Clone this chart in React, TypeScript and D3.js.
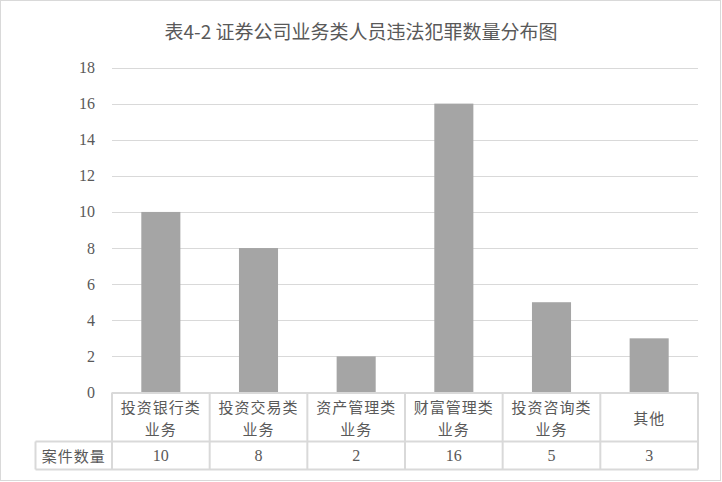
import * as d3 from 'd3';

const categories = ['投资银行类业务', '投资交易类业务', '资产管理类业务', '财富管理类业务', '投资咨询类业务', '其他'];
const labelLines = [['投资银行类', '业务'], ['投资交易类', '业务'], ['资产管理类', '业务'], ['财富管理类', '业务'], ['投资咨询类', '业务'], ['其他']];
const values = [10, 8, 2, 16, 5, 3];
const yTicks = [0, 2, 4, 6, 8, 10, 12, 14, 16, 18];
const title = '表4-2 证券公司业务类人员违法犯罪数量分布图';
const seriesName = '案件数量';

const cjk = '"Noto Sans CJK SC", "Liberation Serif", serif';
const num = '"Liberation Serif", "DejaVu Serif", serif';
const textColor = '#595959';
const gridColor = '#D9D9D9';

export default function App() {
    const width = 722;
    const height = 482;
    const left = 112;
    const right = 698;
    const top = 67.5;
    const bottom = 392.5;
    const labelRowBottom = 441.5;
    const tableBottom = 469.5;
    const headerLeft = 35.5;

    const x = d3.scaleBand().domain(categories).range([left, right]).paddingInner(0).paddingOuter(0);
    const y = d3.scaleLinear().domain([0, 18]).range([bottom, top]);
    const barW = x.bandwidth() * 0.4;

    return (
        <div style={{ position: 'fixed', left: 0, top: 0 }}>
            <svg width={width} height={height} style={{ display: 'block' }}>
                <rect x={0.5} y={0.5} width={width - 2} height={height - 2} fill="#fff" stroke={gridColor} />
                <text x={361} y={30} textAnchor="middle" dominantBaseline="central" fontFamily={cjk} fontSize={19} fill={textColor}>
                    {title}
                </text>
                {yTicks.map((t) => (
                    <g key={t}>
                        {t > 0 && <line x1={left} x2={right} y1={Math.round(y(t)) + 0.5} y2={Math.round(y(t)) + 0.5} stroke={gridColor} />}
                        <text x={95} y={y(t)} textAnchor="end" dominantBaseline="central" fontFamily={num} fontSize={16} fill={textColor}>
                            {t}
                        </text>
                    </g>
                ))}
                {categories.map((c, i) => (
                    <rect key={c} x={x(c)! + (x.bandwidth() - barW) / 2} y={y(values[i])} width={barW} height={y(0) - y(values[i])} fill="#A5A5A5" />
                ))}
                {/* data table */}
                <g stroke={gridColor} strokeWidth={2} fill="none">
                    <line x1={left} x2={right} y1={bottom + 0.5} y2={bottom + 0.5} />
                    <line x1={headerLeft} x2={right} y1={labelRowBottom} y2={labelRowBottom} />
                    <line x1={headerLeft} x2={right} y1={tableBottom} y2={tableBottom} />
                    <line x1={headerLeft} x2={headerLeft} y1={labelRowBottom} y2={tableBottom} />
                    {categories.map((c) => (
                        <line key={c} x1={x(c)!} x2={x(c)!} y1={bottom} y2={tableBottom} />
                    ))}
                    <line x1={right} x2={right} y1={bottom} y2={tableBottom} />
                </g>
                {categories.map((c, i) => {
                    const cx = x(c)! + x.bandwidth() / 2;
                    const lines = labelLines[i];
                    const mid = (bottom + labelRowBottom) / 2;
                    return (
                        <g key={c}>
                            {lines.map((l, j) => (
                                <text key={j} x={cx} y={mid + (j - (lines.length - 1) / 2) * 22} textAnchor="middle" dominantBaseline="central" fontFamily={cjk} fontSize={15} letterSpacing={1} fill={textColor}>
                                    {l}
                                </text>
                            ))}
                            <text x={cx} y={(labelRowBottom + tableBottom) / 2} textAnchor="middle" dominantBaseline="central" fontFamily={num} fontSize={16} fill={textColor}>
                                {values[i]}
                            </text>
                        </g>
                    );
                })}
                <text x={(headerLeft + left) / 2} y={(labelRowBottom + tableBottom) / 2} textAnchor="middle" dominantBaseline="central" fontFamily={cjk} fontSize={15} letterSpacing={1} fill={textColor}>
                    {seriesName}
                </text>
            </svg>
        </div>
    );
}
